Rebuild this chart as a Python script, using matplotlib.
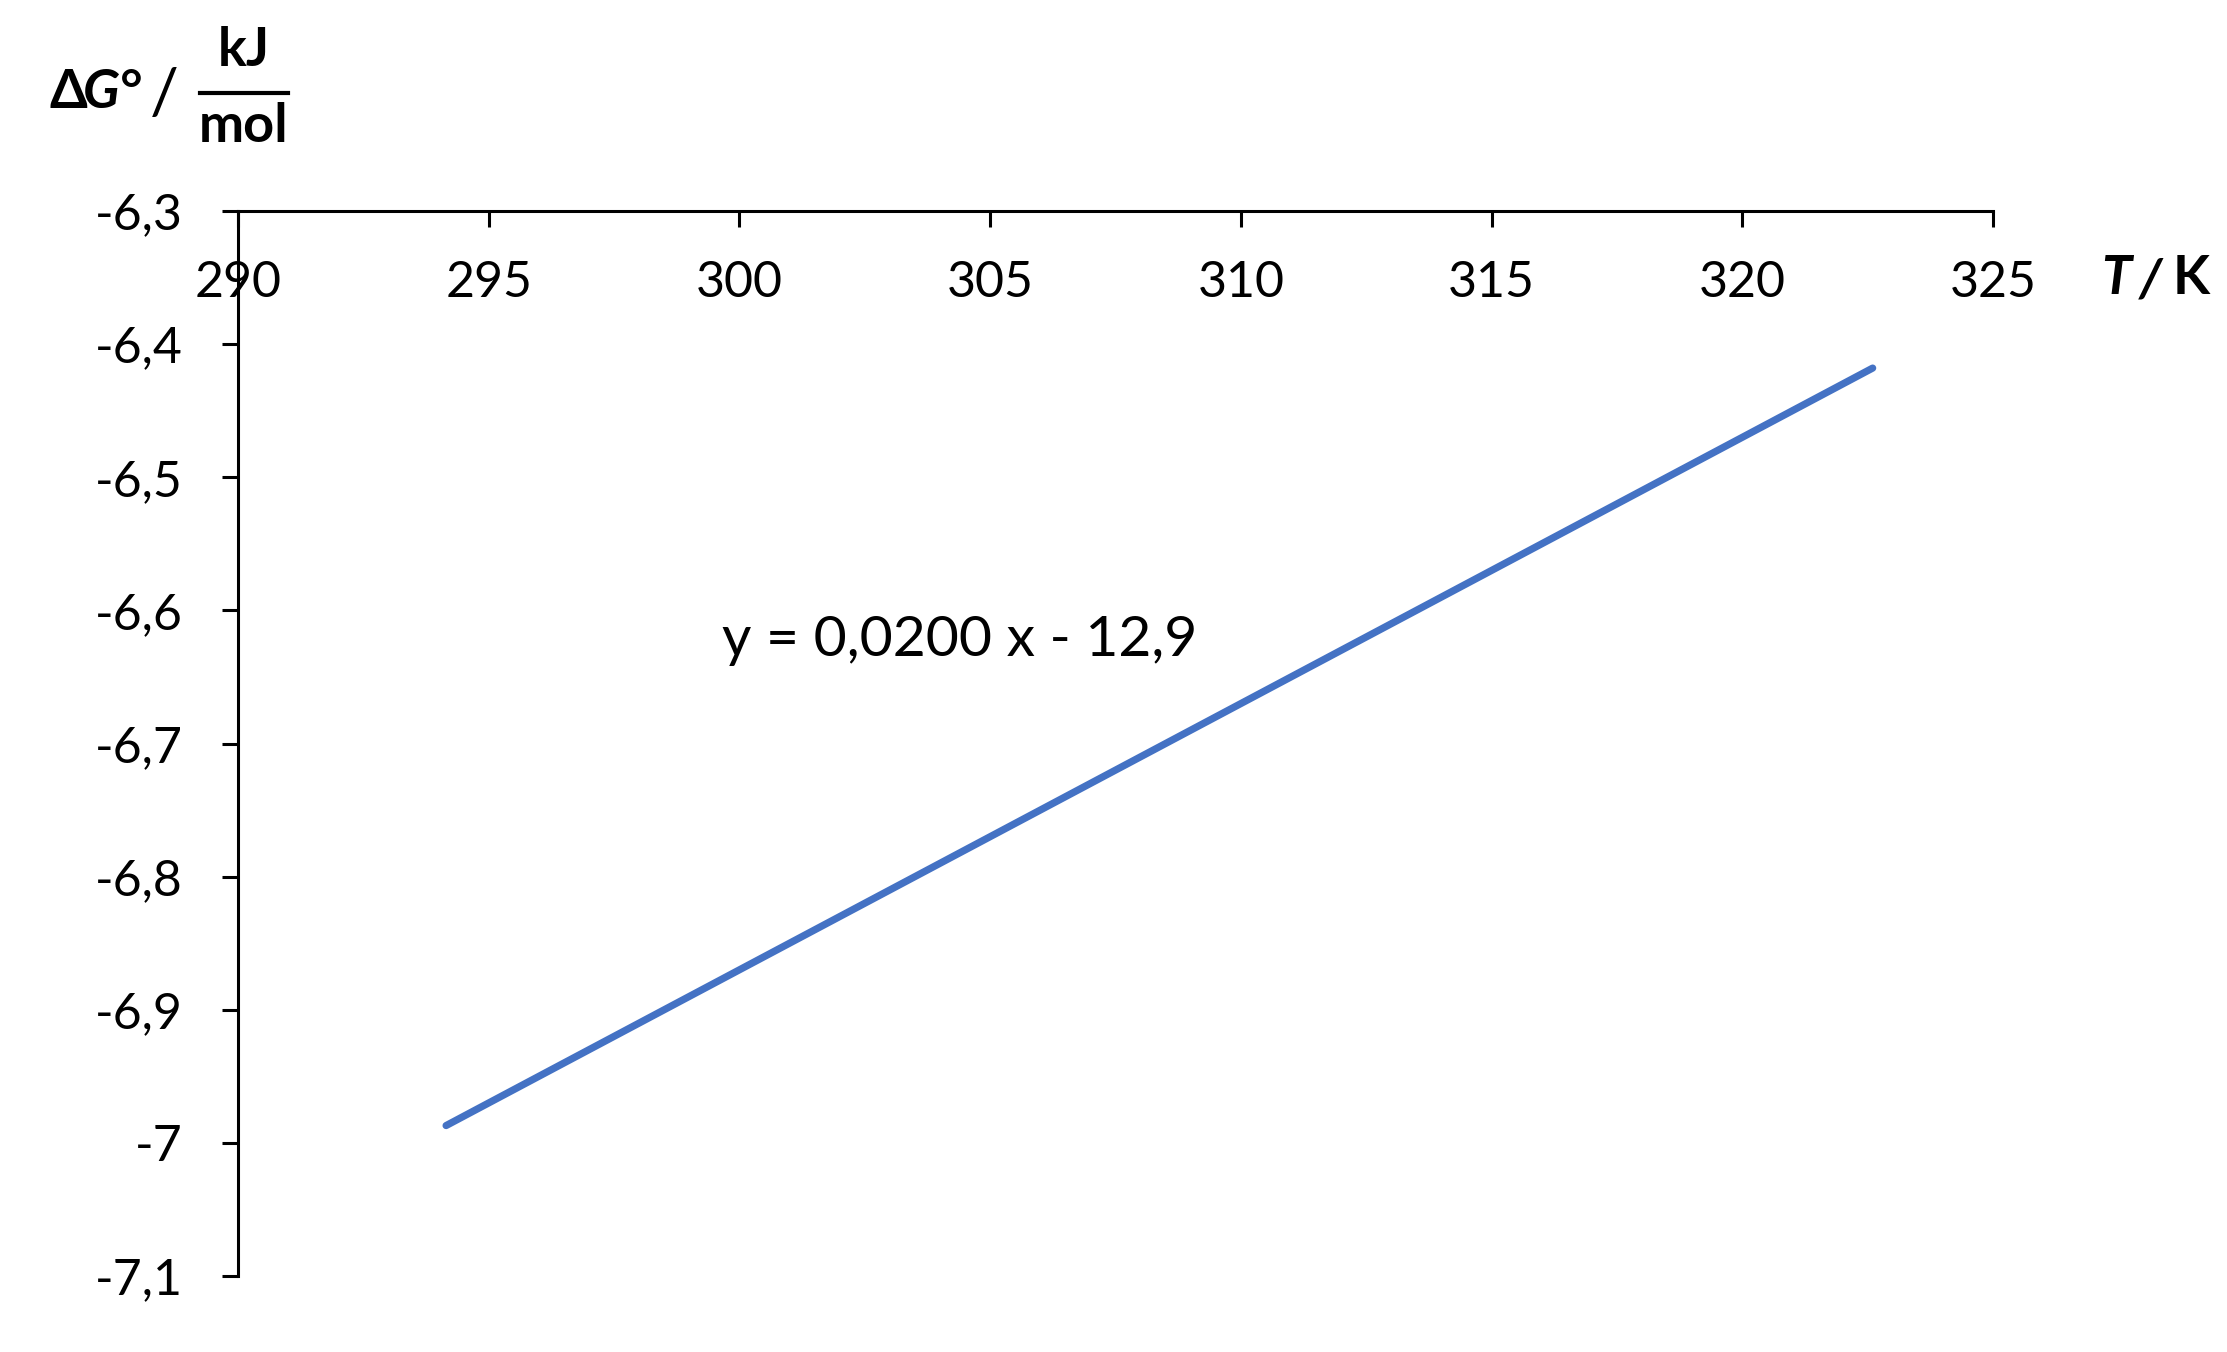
import matplotlib
matplotlib.use("Agg")
import matplotlib.pyplot as plt
from matplotlib.ticker import MultipleLocator, FuncFormatter
from matplotlib.lines import Line2D

plt.rcParams['font.family'] = ['Lato', 'DejaVu Sans']

# datos
temp_k = [294.15, 322.6]
dg_kj = [-6.987, -6.418]
eq_label = 'y = 0,0200 x - 12,9'

W, H, DPI = 2227, 1352, 200
fig = plt.figure(figsize=(W / DPI, H / DPI), dpi=DPI)
ax = fig.add_axes([238 / W, 1 - 1276 / H, (1993 - 238) / W, (1276 - 211) / H])

ax.plot(temp_k, dg_kj, color='#4472C4', linewidth=2.6, solid_capstyle='round')

ax.set_xlim(290, 325)
ax.set_ylim(-7.1, -6.3)
ax.xaxis.set_major_locator(MultipleLocator(5))
ax.yaxis.set_major_locator(MultipleLocator(0.1))

def comma_fmt(v, pos):
    s = f"{v:.1f}".replace('.', ',')
    if s.endswith(',0'):
        s = s[:-2]
    return s

ax.yaxis.set_major_formatter(FuncFormatter(comma_fmt))
ax.xaxis.set_major_formatter(FuncFormatter(lambda v, p: f"{v:.0f}"))

# eje x arriba (cruza en -6,3) con etiquetas por debajo
ax.spines['top'].set_visible(False)
ax.spines['right'].set_visible(False)
ax.spines['bottom'].set_position(('axes', 1.0))
for s in ('left', 'bottom'):
    ax.spines[s].set_linewidth(1.1)

ax.tick_params(axis='x', direction='out', length=5.8, width=1.1, pad=12, labelsize=18)
ax.tick_params(axis='y', direction='out', length=5.8, width=1.1, pad=14, labelsize=18)

ax.text(960 / W, 1 - 641 / H, eq_label, transform=fig.transFigure,
        ha='center', va='center', fontsize=20.5)

# etiqueta del eje y: dG / (kJ/mol)
fig.text(49 / W, 1 - 92 / H, 'Δ', fontsize=19.5, fontweight='bold', ha='left', va='center')
fig.text(83 / W, 1 - 92 / H, 'G°', fontsize=19.5, fontweight='bold', style='italic',
         ha='left', va='center')
fig.text(164 / W, 1 - 96 / H, '/', fontsize=23, fontweight='normal', ha='center', va='center')
fig.text(244 / W, 1 - 50 / H, 'kJ', fontsize=19.5, fontweight='bold', ha='center', va='center')
fig.text(244 / W, 1 - 127 / H, 'mol', fontsize=19.5, fontweight='bold', ha='center', va='center')
fig.add_artist(Line2D([200 / W, 288 / W], [1 - 93 / H, 1 - 93 / H],
                      transform=fig.transFigure, color='black', linewidth=1.5))

# etiqueta del eje x
fig.text(2116 / W, 1 - 279 / H, 'T', fontsize=19.5, fontweight='bold', style='italic',
         ha='center', va='center')
fig.text(2150 / W, 1 - 281 / H, '/', fontsize=19.5, fontweight='bold', style='italic',
         ha='center', va='center')
fig.text(2191 / W, 1 - 279 / H, 'K', fontsize=19.5, fontweight='bold',
         ha='center', va='center')

fig.savefig('out.png', dpi=DPI)
